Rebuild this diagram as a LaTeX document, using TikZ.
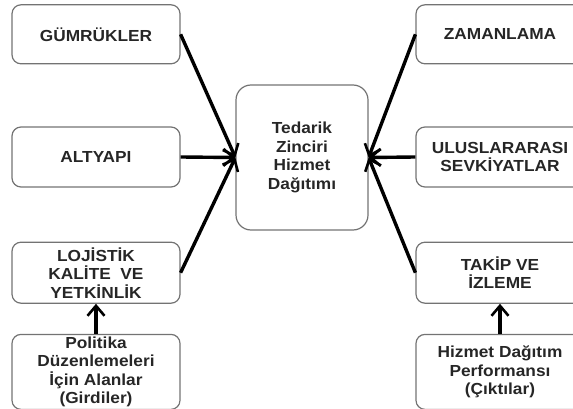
\documentclass[tikz,border=0pt]{standalone}
\usepackage{fontspec}
\setmainfont{Liberation Sans}[FakeStretch=1.08]
\usetikzlibrary{arrows.meta, positioning, calc}

\begin{document}
\begin{tikzpicture}[x=1pt, y=-1pt,
        kutu/.style={draw=black!55, line width=1.2pt, rounded corners=9pt, align=center,
            font=\bfseries\fontsize{16}{18.5}\selectfont, text=black!85, inner sep=0pt,
            minimum width=168pt, minimum height=60pt},
        ok/.style={line width=3.4pt, -{Straight Barb[length=10pt, width=17pt, line width=2.6pt]}}]
        \useasboundingbox (0,0) rectangle (573,409);

        \node[kutu, minimum width=132pt, minimum height=145pt, rounded corners=15pt] (TZ) at (302,157.5) {Tedarik\\Zinciri\\Hizmet\\Dağıtımı};

        \node[kutu] (AL) at (96,157) {ALTYAPI};
        \node[kutu, minimum height=59pt, above=62pt of AL] (GU) {GÜMRÜKLER};
        \node[kutu, minimum height=61pt, below=54pt of AL] (LO) {LOJİSTİK\\KALİTE\ \ VE\\YETKİNLİK};
        \node[kutu, minimum height=75pt, below=30pt of LO] (PO) {Politika\\Düzenlemeleri\\İçin Alanlar\\(Girdiler)};

        \node[kutu] (UL) at (500,157) {ULUSLARARASI\\SEVKİYATLAR};
        \node[kutu, minimum height=59pt, above=62pt of UL] (ZA) {ZAMANLAMA};
        \node[kutu, minimum height=61pt, below=54pt of UL] (TA) {TAKİP VE\\İZLEME};
        \node[kutu, minimum height=75pt, below=30pt of TA] (HP) {Hizmet Dağıtım\\Performansı\\(Çıktılar)};

        \draw[ok] (GU.east) -- (TZ.west);
        \draw[ok] (AL.east) -- (TZ.west);
        \draw[ok] (LO.east) -- (TZ.west);
        \draw[ok] (PO.north) -- (LO.south);

        \draw[ok] (ZA.west) -- (TZ.east);
        \draw[ok] (UL.west) -- (TZ.east);
        \draw[ok] (TA.west) -- (TZ.east);
        \draw[ok] (HP.north) -- (TA.south);
\end{tikzpicture}
\end{document}
